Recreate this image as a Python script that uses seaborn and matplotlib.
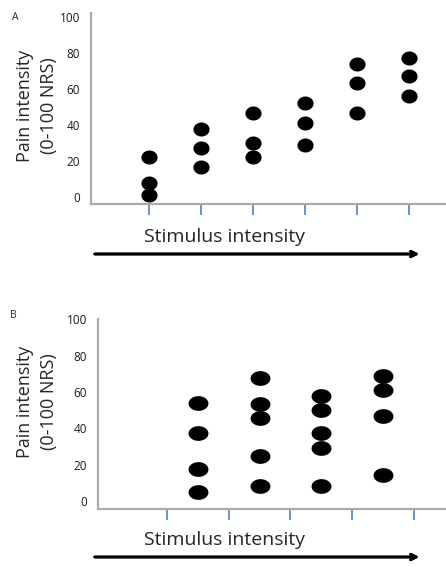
import numpy as np
import pandas as pd
import seaborn as sns
import matplotlib.pyplot as plt
from matplotlib.path import Path

# Panel A: three ratings at each of six stimulus levels
stim_a = [1, 1, 1, 2, 2, 2, 3, 3, 3, 4, 4, 4, 5, 5, 5, 6, 6, 6]
pain_a = [22, 8, 1, 38, 27, 16.5, 46.5, 30, 22, 52, 41, 29, 74, 63, 46.5, 77, 67, 56]
ticks_a = [1, 2, 3, 4, 5, 6]

# Panel B: ratings between the stimulus levels
stim_b = [1.5] * 4 + [2.5] * 5 + [3.5] * 5 + [4.5] * 4
pain_b = [54, 37.5, 17.5, 5, 67.5, 53.5, 45.5, 25, 8.5,
          58, 50, 37.5, 29, 8.5, 69, 61, 47, 14.5]
ticks_b = [1, 2, 3, 4, 5]

y_ticks = [0, 20, 40, 60, 80, 100]

sns.set_style("white")
plt.rcParams["font.family"] = ["Open Sans", "DejaVu Sans"]

AXIS_GREY = "#ABABAB"
TICK_BLUE = "#4472C4"


def ellipse_marker(stretch):
    t = np.linspace(0, 2 * np.pi, 60)
    verts = np.column_stack([stretch * np.cos(t), np.sin(t)])
    return Path(verts, closed=True)


fig = plt.figure(figsize=(4.46, 5.67), dpi=100)
ax_a = fig.add_axes([0.204, 0.640, 0.796, 0.337])
ax_b = fig.add_axes([0.220, 0.102, 0.780, 0.335])

df_a = pd.DataFrame({"stim": stim_a, "pain": pain_a})
df_b = pd.DataFrame({"stim": stim_b, "pain": pain_b})

sns.scatterplot(data=df_a, x="stim", y="pain", ax=ax_a, color="black",
                marker=ellipse_marker(1.15), s=135, linewidth=0)
sns.scatterplot(data=df_b, x="stim", y="pain", ax=ax_b, color="black",
                marker=ellipse_marker(1.35), s=205, linewidth=0)

panels = [
    (ax_a, ticks_a, (-0.115, 6.71), (-3.9, 102), (-0.093, 0.515), "A"),
    (ax_b, ticks_b, (-0.117, 5.52), (-4.4, 100), (-0.115, 0.566), "B"),
]
for ax, xt, xl, yl, lab_xy, letter in panels:
    ax.set_xlim(*xl)
    ax.set_ylim(*yl)
    ax.set_xticks(xt)
    ax.set_xticklabels([])
    ax.set_yticks(y_ticks)
    ax.set_yticklabels([str(v) for v in y_ticks])
    ax.tick_params(axis="x", direction="out", length=8, width=1.1,
                   color=TICK_BLUE, bottom=True)
    ax.tick_params(axis="y", length=0, pad=8, labelsize=8.5,
                   labelcolor="#1a1a1a")
    for side in ["top", "right"]:
        ax.spines[side].set_visible(False)
    for side in ["left", "bottom"]:
        ax.spines[side].set_color(AXIS_GREY)
        ax.spines[side].set_linewidth(1.6)
    ax.set_xlabel("")
    ax.set_ylabel("Pain intensity\n(0-100 NRS)", fontsize=13, linespacing=1.45)
    ax.yaxis.set_label_coords(*lab_xy)

fig.text(15 / 446, 1 - 17 / 567, "A", fontsize=7.5, ha="center", va="center")
fig.text(13 / 446, 1 - 315 / 567, "B", fontsize=7.5, ha="center", va="center")

for y_txt, y_arr in [(237, 254), (540, 557)]:
    fig.text(224.5 / 446, 1 - y_txt / 567, "Stimulus intensity", fontsize=14,
             ha="center", va="center")
    fig.add_artist(plt.annotate(
        "", xy=(422 / 446, 1 - y_arr / 567), xytext=(92 / 446, 1 - y_arr / 567),
        xycoords="figure fraction", textcoords="figure fraction",
        arrowprops=dict(arrowstyle="->", lw=2, color="black", mutation_scale=10)))

plt.savefig("out.png", dpi=100)
plt.close()
